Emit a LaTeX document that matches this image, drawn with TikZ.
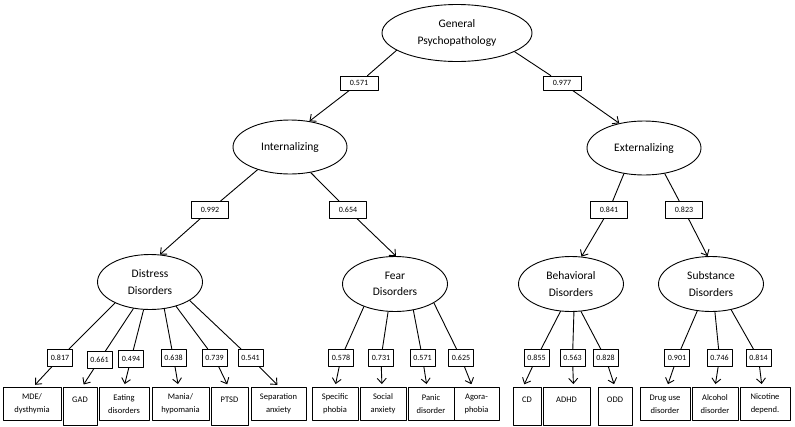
\documentclass[tikz,border=0pt]{standalone}
\usepackage{fontspec}
\setmainfont{Carlito}
\usetikzlibrary{positioning,calc,arrows.meta,shapes.geometric}

\begin{document}
\begin{tikzpicture}[
  x=1pt,y=-1pt,
  >={Straight Barb[length=5pt,width=9pt]},
  line cap=round,line join=round,
  latent/.style={draw, ellipse, line width=0.9pt, inner sep=0pt, align=center,
    font=\fontsize{11.5}{16.5}\selectfont},
  latentTop/.style={latent, minimum width=150pt, minimum height=57pt},
  latentMid/.style={latent, minimum width=114pt, minimum height=54pt},
  latentSub/.style={latent, minimum width=105pt, minimum height=55pt},
  loadbox/.style={draw, fill=white, line width=0.8pt, inner sep=0pt,
    minimum width=#1, minimum height=16pt, font=\fontsize{8}{9}\selectfont},
  leaf/.style={draw, line width=0.8pt, anchor=north, inner sep=0pt, align=center,
    minimum width=#1, minimum height=33pt, font=\fontsize{8.5}{13}\selectfont},
  leafOne/.style={leaf=#1, minimum height=38pt},
  link/.style={line width=0.9pt},
  arr/.style={link, ->},
  arrLeaf/.style={link, ->, shorten >=3pt}
  ]
  \useasboundingbox (0,0) rectangle (795,426);

  %----- latent factors
  \node[latentTop] (gen)    at (457,33)  {General\\Psychopathology};
  \node[latentMid] (intern) at (290,147) {Internalizing};
  \node[latentMid] (extern) at (644,148) {Externalizing};
  \node[latentSub] (distr)  at (150,282) {Distress\\Disorders};
  \node[latentSub] (fear)   at (395,284) {Fear\\Disorders};
  \node[latentSub] (behav)  at (571,284) {Behavioral\\Disorders};
  \node[latentSub] (subst)  at (711,284) {Substance\\Disorders};

  %----- observed disorders (bottom row)
  \def\rowY{387}
  \node[leaf=58]    (mde)   at (32,\rowY)    {MDE/\\dysthymia};
  \node[leafOne=34] (gad)   at (80,\rowY)    {GAD\\~};
  \node[leaf=50]    (eat)   at (124,\rowY)   {Eating\\disorders};
  \node[leaf=57]    (mania) at (180.5,\rowY) {Mania/\\hypomania};
  \node[leafOne=37] (ptsd)  at (229.5,\rowY) {PTSD\\~};
  \node[leaf=55]    (sep)   at (278.5,\rowY) {Separation\\anxiety};
  \node[leaf=46]    (spec)  at (335,\rowY)   {Specific\\phobia};
  \node[leaf=46]    (soc)   at (383,\rowY)   {Social\\anxiety};
  \node[leaf=46]    (panic) at (431,\rowY)   {Panic\\disorder};
  \node[leaf=45]    (agora) at (476.5,\rowY) {Agora-\\phobia};
  \node[leafOne=28] (cd)    at (527,\rowY)   {CD\\~};
  \node[leafOne=47] (adhd)  at (566.5,\rowY) {ADHD\\~};
  \node[leafOne=34] (odd)   at (615,\rowY)   {ODD\\~};
  \node[leaf=50]    (drug)  at (665,\rowY)   {Drug use\\disorder};
  \node[leaf=46]    (alc)   at (715,\rowY)   {Alcohol\\disorder};
  \node[leaf=50]    (nic)   at (765,\rowY)   {Nicotine\\depend.};

  %----- loadings, upper levels
  \node[loadbox=38, minimum height=14pt] (lInt) at (359,83) {0.571};
  \node[loadbox=38, minimum height=14pt] (lExt) at (562,83) {0.977};
  \node[loadbox=37, minimum height=17pt] (lDis) at (210,210) {0.992};
  \node[loadbox=37, minimum height=17pt] (lFea) at (348,210) {0.654};
  \node[loadbox=37, minimum height=17pt] (lBeh) at (609,210) {0.841};
  \node[loadbox=37, minimum height=17pt] (lSub) at (684,210) {0.823};

  \draw[link] (gen.196) -- (lInt);    \draw[arr] (lInt) -- (intern.53);
  \draw[link] (gen.342) -- (lExt);    \draw[arr] (lExt) -- (extern.135);
  \draw[link] (intern.215) -- (lDis); \draw[arr] (lDis) -- (distr.70);
  \draw[link] (intern.309) -- (lFea); \draw[arr] (lFea) -- (fear.88);
  \draw[link] (extern.232) -- (lBeh); \draw[arr] (lBeh) -- (behav.69);
  \draw[link] (extern.309) -- (lSub); \draw[arr] (lSub) -- (subst.97);

  %----- loadings, bottom row
  \foreach \nm/\x/\y/\val in {lMde/60/358/0.817, lGad/99.5/360/0.661,
      lEat/131/359/0.494, lMan/173.5/358/0.638, lPts/214.5/358/0.739,
      lSep/250.5/358/0.541, lSpe/341/358/0.578, lSoc/381/358/0.731,
      lPan/422.5/358/0.571, lAgo/461/358/0.625, lCd/536.5/358/0.855,
      lAdh/572.5/358/0.563, lOdd/605.5/358/0.828, lDru/677/358/0.901,
      lAlc/719.5/358/0.746, lNic/758.5/358/0.814}
    \node[loadbox=25, minimum height=17pt] (\nm) at (\x,\y) {\val};

  \foreach \src/\ang/\ld/\lf/\dx in {distr/211/lMde/mde/1, distr/238/lGad/gad/2,
      distr/257/lEat/eat/0, distr/298/lMan/mania/-2, distr/317/lPts/ptsd/-1,
      distr/335/lSep/sep/1, fear/216/lSpe/spec/0, fear/256/lSoc/soc/-1,
      fear/305/lPan/panic/-4, fear/334/lAgo/agora/-4, behav/249/lCd/cd/-4,
      behav/276/lAdh/adhd/7, behav/290/lOdd/odd/0, subst/243/lDru/drug/2,
      subst/278/lAlc/alc/0, subst/308/lNic/nic/-3}{
    \draw[link] (\src.\ang) -- (\ld);
    \draw[arrLeaf] (\ld) -- ([xshift=\dx pt]\lf.north);
  }

\end{tikzpicture}
\end{document}
